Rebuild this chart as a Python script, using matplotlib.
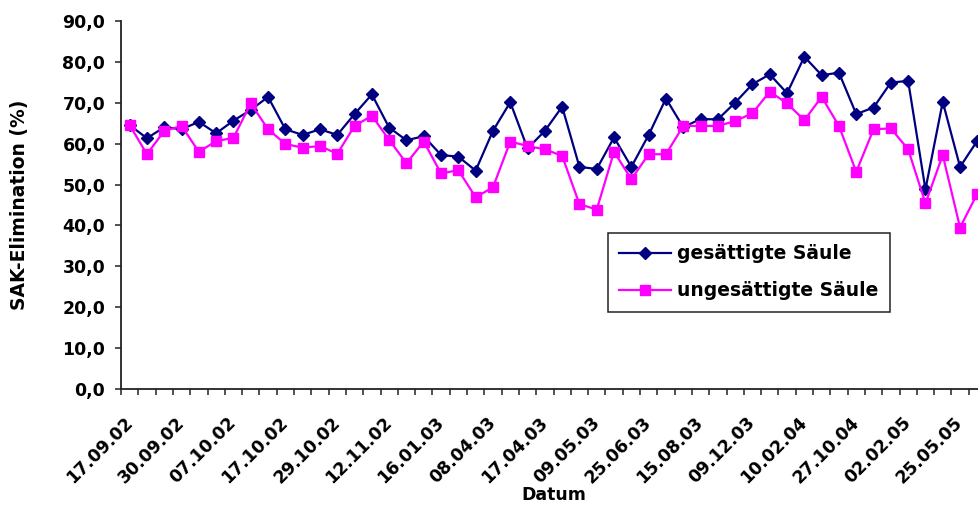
import matplotlib
matplotlib.use("Agg")
import matplotlib.pyplot as plt
from matplotlib.ticker import FixedLocator, FuncFormatter

plt.rcParams['font.family'] = ['DejaVu Sans']
plt.rcParams['font.weight'] = 'bold'

# SAK elimination per sampling date (%)
gesaettigt = [64.5, 61.3, 64.0, 63.5, 65.3, 62.5, 65.6, 68.2, 71.4, 63.5,
              62.1, 63.5, 62.1, 67.2, 72.0, 63.9, 60.8, 61.8, 57.2, 56.8,
              53.4, 63.1, 70.1, 58.8, 63.1, 69.0, 54.3, 53.8, 61.5, 54.3,
              62.1, 71.0, 64.0, 66.0, 65.9, 70.0, 74.5, 76.9, 72.3, 81.2,
              76.7, 77.3, 67.2, 68.8, 74.9, 75.3, 48.8, 70.2, 54.3, 60.7]
ungesaettigt = [64.5, 57.4, 63.1, 64.3, 58.0, 60.6, 61.4, 69.8, 63.5, 59.9,
                59.0, 59.4, 57.5, 64.3, 66.8, 60.9, 55.2, 60.5, 52.7, 53.5,
                46.9, 49.3, 60.5, 59.4, 58.6, 57.0, 45.2, 43.9, 58.0, 51.3,
                57.4, 57.4, 64.3, 64.3, 64.3, 65.5, 67.4, 72.7, 69.8, 65.7,
                71.4, 64.3, 53.1, 63.5, 63.7, 58.6, 45.4, 57.2, 39.5, 47.8]

# every third sampling date is labelled on the category axis
label_dates = ['17.09.02', '30.09.02', '07.10.02', '17.10.02', '29.10.02',
               '12.11.02', '16.01.03', '08.04.03', '17.04.03', '09.05.03',
               '25.06.03', '15.08.03', '09.12.03', '10.02.04', '27.10.04',
               '02.02.05', '25.05.05']
label_step = 3

y_ticks = [0, 10, 20, 30, 40, 50, 60, 70, 80, 90]

W, H = 979, 507
fig = plt.figure(figsize=(W / 100, H / 100), dpi=100)
left, right, top, bottom = 121, 986, 20.7, 389.3
ax = fig.add_axes([left / W, 1 - bottom / H, (right - left) / W, (bottom - top) / H])

n = len(gesaettigt)
x = list(range(n))

ax.plot(x, gesaettigt, color='#000080', lw=1.6, marker='D', ms=6.5,
        mfc='#000080', mec='#000080', label='gesättigte Säule', clip_on=False)
ax.plot(x, ungesaettigt, color='#FF00FF', lw=1.6, marker='s', ms=7.8,
        mfc='#FF00FF', mec='#FF00FF', label='ungesättigte Säule', clip_on=False)

ax.set_xlim(-0.5, n - 0.5)
ax.set_ylim(0, 90)

for s in ['top', 'right']:
    ax.spines[s].set_visible(False)
for s in ['left', 'bottom']:
    ax.spines[s].set_color('#222222')
    ax.spines[s].set_linewidth(1.3)

# y axis
ax.yaxis.set_major_locator(FixedLocator(y_ticks))
ax.yaxis.set_major_formatter(FuncFormatter(lambda v, p: f"{v:.1f}".replace('.', ',')))
ax.tick_params(axis='y', direction='out', length=4.3, width=1.1, color='#222222',
               labelsize=12.5, pad=7)

# x axis: tick marks between categories, labels on every third category
label_pos = [i * label_step for i in range(len(label_dates))]
ax.set_xticks(label_pos)
ax.set_xticklabels(label_dates, rotation=45, ha='right', va='center',
                   rotation_mode='anchor', fontsize=12.5, fontweight='bold')
ax.set_xticks([i - 0.5 for i in range(n + 1)], minor=True)
ax.tick_params(axis='x', which='major', length=0, pad=22)
ax.tick_params(axis='x', which='minor', direction='out', length=4.3, width=1.1,
               color='#222222')

for lbl in ax.get_yticklabels():
    lbl.set_fontweight('bold')

ax.set_ylabel('SAK-Elimination (%)', fontsize=13.5, fontweight='bold')
ax.yaxis.set_label_coords((29 - left) / (right - left), 0.5)
ax.set_xlabel('Datum', fontsize=12.5, fontweight='bold')
ax.xaxis.set_label_coords(0.5, -(486 - bottom) / (bottom - top))

leg = ax.legend(loc='upper left', bbox_to_anchor=(608 / W, 1 - 233 / H),
                bbox_transform=fig.transFigure, borderaxespad=0,
                handlelength=2.75, handletextpad=0.35,
                borderpad=0.6, labelspacing=0.96, fancybox=False,
                framealpha=1, edgecolor='#222222',
                prop={'weight': 'bold', 'size': 13.5})
leg.get_frame().set_linewidth(1.1)

fig.savefig('out.png', dpi=100)
